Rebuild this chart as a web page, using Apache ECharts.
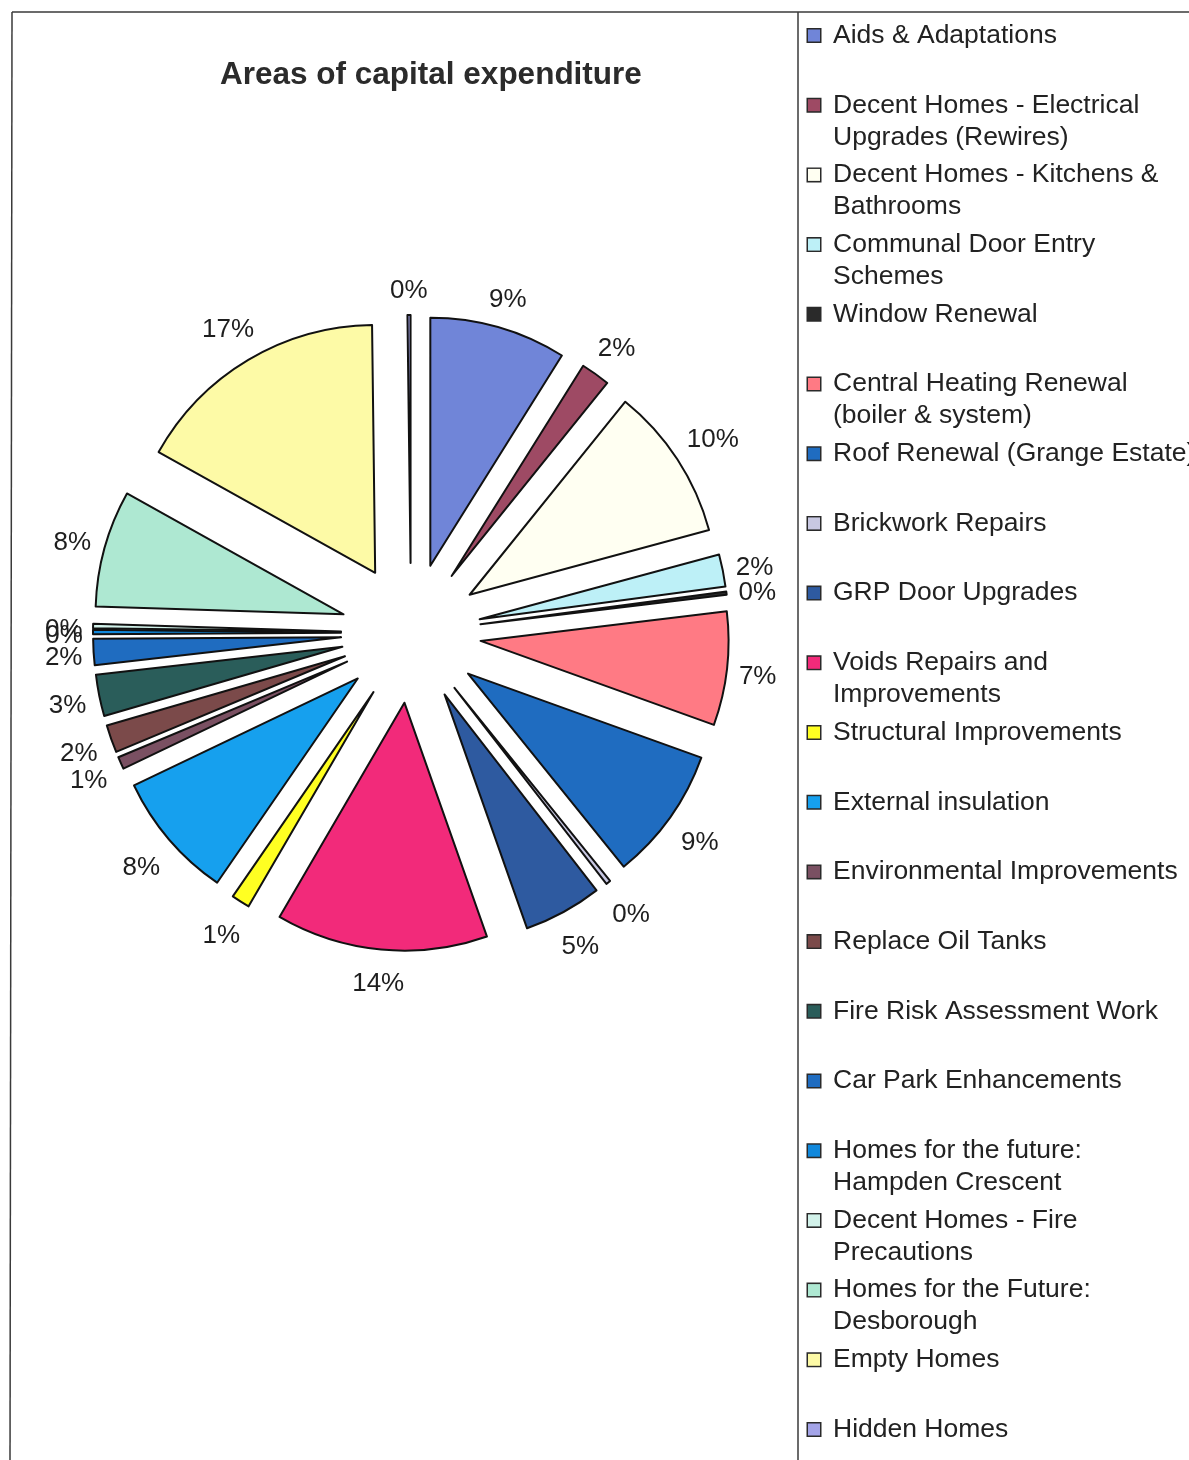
<!DOCTYPE html>
<html>
<head>
<meta charset="utf-8">
<script src="https://cdn.jsdelivr.net/npm/echarts@6/dist/echarts.min.js"></script>
<style>
  html, body { margin: 0; padding: 0; background: #ffffff; }
  #chart { width: 1189px; height: 1460px; }
</style>
</head>
<body>
<div id="chart"></div>
<script>
// ---- data ----
const chartTitle = 'Areas of capital expenditure';

const categories = [
  'Aids & Adaptations',
  'Decent Homes - Electrical Upgrades (Rewires)',
  'Decent Homes - Kitchens & Bathrooms',
  'Communal Door Entry Schemes',
  'Window Renewal',
  'Central Heating Renewal (boiler & system)',
  'Roof Renewal (Grange Estate)',
  'Brickwork Repairs',
  'GRP Door Upgrades',
  'Voids Repairs and Improvements',
  'Structural Improvements',
  'External insulation',
  'Environmental Improvements',
  'Replace Oil Tanks',
  'Fire Risk Assessment Work',
  'Car Park Enhancements',
  'Homes for the future: Hampden Crescent',
  'Decent Homes - Fire Precautions',
  'Homes for the Future: Desborough',
  'Empty Homes',
  'Hidden Homes'
];

// legend text as wrapped in the reference (line 1 / line 2)
const legendLine1 = [
  'Aids & Adaptations',
  'Decent Homes - Electrical',
  'Decent Homes - Kitchens &',
  'Communal Door Entry',
  'Window Renewal',
  'Central Heating Renewal',
  'Roof Renewal (Grange Estate)',
  'Brickwork Repairs',
  'GRP Door Upgrades',
  'Voids Repairs and',
  'Structural Improvements',
  'External insulation',
  'Environmental Improvements',
  'Replace Oil Tanks',
  'Fire Risk Assessment Work',
  'Car Park Enhancements',
  'Homes for the future:',
  'Decent Homes - Fire',
  'Homes for the Future:',
  'Empty Homes',
  'Hidden Homes'
];
const legendLine2 = [
  '', 'Upgrades (Rewires)', 'Bathrooms', 'Schemes', '', '(boiler & system)', '',
  '', '', 'Improvements', '', '', '', '', '', '', 'Hampden Crescent',
  'Precautions', 'Desborough', '', ''
];

// share of capital expenditure (%)
const shares = [8.9, 1.9, 10.0, 2.1, 0.2, 7.4, 8.7, 0.3, 5.1, 13.8, 1.2,
                8.3, 0.8, 1.8, 2.7, 1.7, 0.3, 0.3, 7.6, 16.7, 0.2];

const colors = [
  '#7085d8', '#9e4a64', '#fffff2', '#bdf0f7', '#2a2a2a', '#ff7a84', '#1f6cc0',
  '#c8c8e2', '#2e5aa0', '#f22a7a', '#ffff22', '#16a0ee', '#7a5062', '#7b4a4a',
  '#2a5d5a', '#1f6cc0', '#1088dc', '#d2f2ea', '#aee8d2', '#fdfaa6', '#a4a4e8'
];

// ---- chart ----
const FONT = '"Liberation Sans", Arial, Helvetica, sans-serif';
const PIE_CENTER = [411, 633];
const PIE_RADIUS = 248;
const PIE_OFFSET = 70;
const LABEL_GAP = 8;
const LABEL_DROP = 4;

const rich = {
  gap: { width: 13, lineHeight: 32 },
  ind: { width: 25, lineHeight: 32 },
  t: { fontSize: 26.5, lineHeight: 32, color: '#222222', fontFamily: FONT }
};
colors.forEach(function (c, i) {
  rich['sw' + i] = {
    width: 12, height: 12, backgroundColor: c,
    borderColor: '#2a2a2a', borderWidth: 1.5, lineHeight: 32
  };
});

const pieData = categories.map(function (name, i) {
  return { name: name, value: shares[i], selected: true, itemStyle: { color: colors[i] } };
});

// place each label's box just outside its slice, like Excel's "outside end"
// (label rect is in the slice's own frame; the explode offset is added by the slice)
function excelLabelLayout(p) {
  const r = p.labelRect;
  const ax = p.align === 'left' ? r.x : (p.align === 'right' ? r.x + r.width : r.x + r.width / 2);
  const ay = r.y + r.height / 2;
  const vx = ax - PIE_CENTER[0], vy = ay - PIE_CENTER[1];
  const len = Math.sqrt(vx * vx + vy * vy) || 1;
  const ux = vx / len, uy = vy / len;
  const support = (r.width / 2 + 2) * Math.abs(ux) + 20 * Math.abs(uy);
  const target = PIE_RADIUS + LABEL_GAP + support;
  return {
    align: 'center',
    verticalAlign: 'middle',
    hideOverlap: false,
    dx: PIE_CENTER[0] + ux * target - ax,
    dy: PIE_CENTER[1] + uy * target - ay + LABEL_DROP
  };
}

const chart = echarts.init(document.getElementById('chart'), null, { renderer: 'canvas' });

chart.setOption({
  animation: false,
  backgroundColor: '#ffffff',
  title: {
    text: chartTitle,
    left: 220,
    top: 59,
    padding: 0,
    textStyle: { fontFamily: FONT, fontSize: 31.5, fontWeight: 'bold', color: '#2b2b2b' }
  },
  graphic: [
    { type: 'line', silent: true, shape: { x1: 12, y1: 12, x2: 1189, y2: 12 },
      style: { stroke: '#3a3a3a', lineWidth: 1.5 } },
    { type: 'line', silent: true, shape: { x1: 12, y1: 12, x2: 10, y2: 1460 },
      style: { stroke: '#3a3a3a', lineWidth: 1.5 } },
    { type: 'line', silent: true, shape: { x1: 798, y1: 12, x2: 798, y2: 1460 },
      style: { stroke: '#3a3a3a', lineWidth: 1.5 } }
  ],
  legend: {
    orient: 'vertical',
    left: 802,
    top: 22,
    height: 1600,
    padding: 0,
    itemGap: 10.7,
    itemWidth: 1,
    itemHeight: 1,
    selectedMode: false,
    icon: 'rect',
    itemStyle: { color: 'rgba(0,0,0,0)', borderWidth: 0 },
    data: categories,
    formatter: function (name) {
      const i = categories.indexOf(name);
      return '{sw' + i + '|}{gap|}{t|' + legendLine1[i] + '}\n{ind|}{t|' + (legendLine2[i] || ' ') + '}';
    },
    textStyle: { rich: rich }
  },
  series: [{
    type: 'pie',
    center: PIE_CENTER,
    radius: PIE_RADIUS,
    startAngle: 90,
    clockwise: true,
    selectedMode: 'multiple',
    selectedOffset: PIE_OFFSET,
    avoidLabelOverlap: false,
    minShowLabelAngle: 0,
    itemStyle: { borderColor: '#111111', borderWidth: 2 },
    label: {
      show: true,
      position: 'outside',
      distanceToLabelLine: 0,
      fontFamily: FONT,
      fontSize: 26,
      color: '#1e1e1e',
      formatter: function (p) { return Math.round(p.percent) + '%'; }
    },
    labelLine: { show: false, length: 20, length2: 0 },
    labelLayout: excelLabelLayout,
    emphasis: { disabled: true },
    select: { itemStyle: { borderColor: '#111111', borderWidth: 2 } },
    data: pieData
  }]
});
</script>
</body>
</html>
